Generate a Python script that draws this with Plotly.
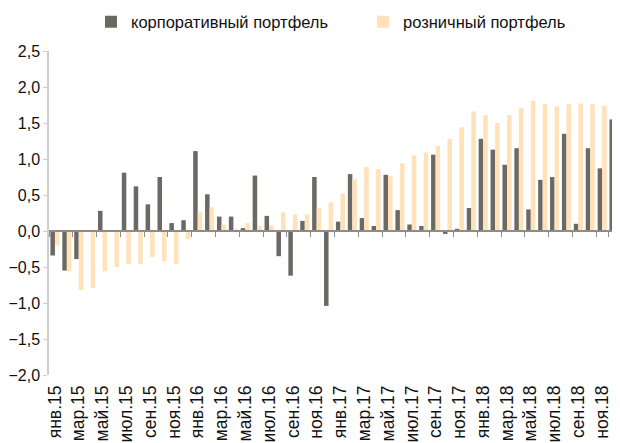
import plotly.graph_objects as go

# месяцы янв.15 - дек.18
month_names = ["янв", "фев", "мар", "апр", "май", "июн",
               "июл", "авг", "сен", "окт", "ноя", "дек"]
years = ["15", "16", "17", "18"]
months = [m + "." + y for y in years for m in month_names]

corporate = [
    -0.34, -0.55, -0.39, 0.00, 0.28, 0.00, 0.81, 0.62, 0.37, 0.75, 0.11, 0.15,
    1.11, 0.51, 0.20, 0.20, 0.04, 0.77, 0.21, -0.35, -0.62, 0.14, 0.75, -1.04,
    0.13, 0.79, 0.18, 0.07, 0.78, 0.29, 0.09, 0.07, 1.06, -0.04, 0.03, 0.32,
    1.28, 1.13, 0.92, 1.15, 0.30, 0.71, 0.75, 1.35, 0.10, 1.15, 0.87, 1.55,
]
retail = [
    -0.20, -0.56, -0.82, -0.79, -0.56, -0.50, -0.46, -0.46, -0.36, -0.42, -0.46, -0.11,
    0.26, 0.33, 0.09, 0.03, 0.11, 0.07, 0.08, 0.26, 0.23, 0.23, 0.32, 0.40,
    0.52, 0.72, 0.89, 0.86, 0.76, 0.94, 1.05, 1.09, 1.18, 1.28, 1.44, 1.66,
    1.61, 1.50, 1.61, 1.71, 1.81, 1.76, 1.73, 1.76, 1.77, 1.76, 1.74, 1.50,
]

label_months = months[::2]

fig = go.Figure()

fig.add_trace(go.Bar(
    x=months, y=corporate,
    name="корпоративный портфель",
    marker=dict(color="#6c6864", line=dict(width=0)),
    legend="legend",
))
fig.add_trace(go.Bar(
    x=months, y=retail,
    name="розничный портфель",
    marker=dict(color="#ffe1ba", line=dict(width=0)),
    legend="legend2",
))

# пустой след, чтобы отрисовать ось на нуле
fig.add_trace(go.Scatter(
    x=months, y=[None] * len(months),
    xaxis="x2", mode="lines",
    showlegend=False, hoverinfo="skip",
))

y_min, y_max = -2.0, 2.5
W, H = 612, 435  # страница добавляет отступ 8px

legend_style = dict(
    orientation="h",
    xref="container", yref="container",
    y=1 - 14 / H,
    xanchor="left", yanchor="middle",
    itemwidth=30,
    font=dict(size=16.5),
    bgcolor="rgba(0,0,0,0)",
)

fig.update_layout(
    width=W, height=H,
    margin=dict(l=41, r=0, t=43, b=68, autoexpand=False),
    paper_bgcolor="white",
    plot_bgcolor="white",
    separators=", ",
    barmode="group",
    bargap=0.24,
    bargroupgap=0,
    font=dict(family="Liberation Sans, Arial, sans-serif", size=16, color="#111111"),
    legend=dict(legend_style, x=83 / W),
    legend2=dict(legend_style, x=355 / W),
    xaxis=dict(
        type="category",
        categoryorder="array", categoryarray=months,
        range=[-0.5, len(months) - 0.5],
        tickvals=label_months,
        ticktext=label_months,
        tickangle=-90,
        ticks="",
        ticklabelstandoff=6,
        showline=False,
        showgrid=False,
        automargin=False,
        tickfont=dict(size=17.5),
    ),
    xaxis2=dict(
        type="category",
        categoryorder="array", categoryarray=months,
        range=[-0.5, len(months) - 0.5],
        overlaying="x",
        anchor="free",
        position=(0 - y_min) / (y_max - y_min),
        tickvals=label_months,
        tickson="boundaries",
        ticks="outside",
        ticklen=5,
        tickcolor="#8c8c8c",
        showticklabels=False,
        showline=True,
        linecolor="#8c8c8c",
        linewidth=2,
        showgrid=False,
        automargin=False,
    ),
    yaxis=dict(
        range=[y_min, y_max],
        dtick=0.5,
        tickformat=".1f",
        showline=True,
        linecolor="#cfcfcf",
        linewidth=1.5,
        ticks="outside",
        ticklen=4,
        tickcolor="#cfcfcf",
        showgrid=False,
        zeroline=False,
        automargin=False,
        tickfont=dict(size=16),
    ),
)

fig.write_html("out.html")
